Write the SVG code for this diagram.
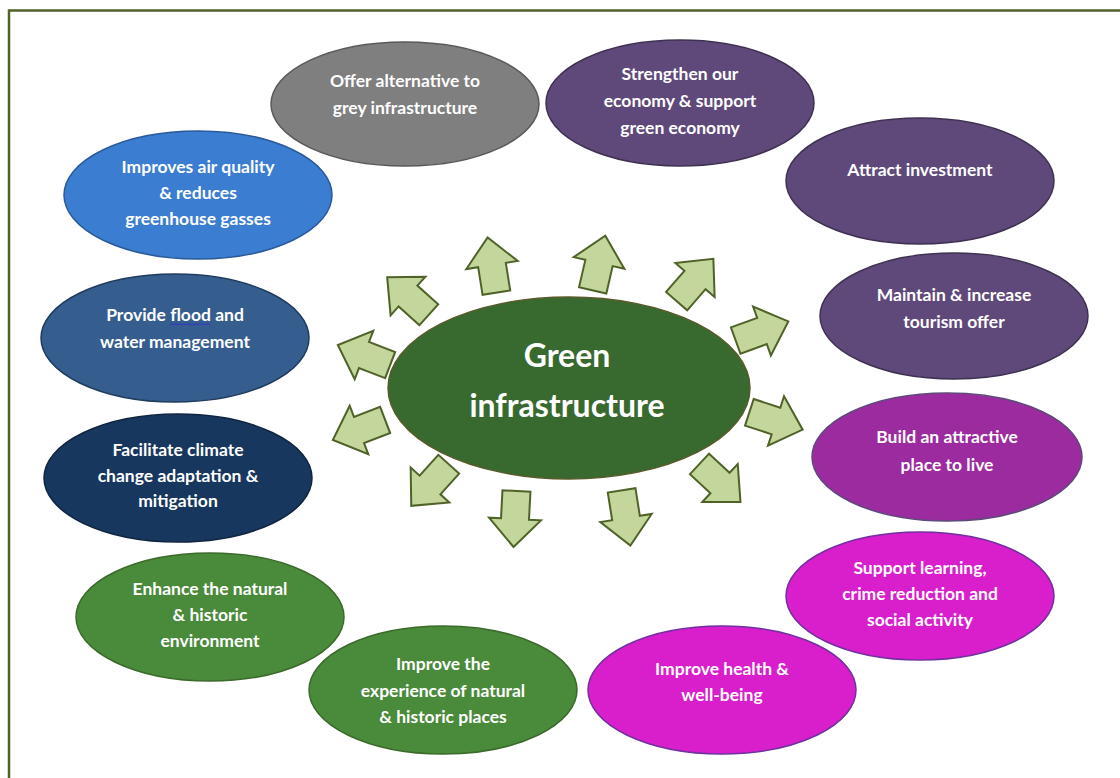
<svg xmlns="http://www.w3.org/2000/svg" width="1120" height="778" viewBox="0 0 1120 778">
<defs>
<style>
.t{font-family:Lato,"Open Sans","Liberation Sans",sans-serif;font-weight:bold;font-size:17.5px;fill:#ffffff;text-anchor:middle}
.c{font-family:Lato,"Open Sans","Liberation Sans",sans-serif;font-weight:bold;font-size:32px;fill:#ffffff;text-anchor:middle}
.arr{fill:#c3d69b;stroke:#4f6228;stroke-width:2;stroke-linejoin:miter}
.n{stroke-width:1.5}
</style>
<path id="a" d="M-28,-14 L0,-14 L0,-26 L28,0 L0,26 L0,14 L-28,14 Z"/>
</defs>
<rect width="1120" height="778" fill="#ffffff"/>
<path d="M9,778 V10.5 H1120" fill="none" stroke="#4f6228" stroke-width="2.5"/>

<g id="n-grey"><ellipse class="n" cx="405" cy="104" rx="134" ry="62" fill="#7f7f7f" stroke="#595959"/><text class="t" x="405" y="87">Offer alternative to</text><text class="t" x="405" y="114">grey infrastructure</text></g>
<g id="n-economy"><ellipse class="n" cx="680" cy="103" rx="134" ry="63" fill="#5f497a" stroke="#3f3151"/><text class="t" x="680" y="80">Strengthen our</text><text class="t" x="680" y="107">economy &amp; support</text><text class="t" x="680" y="134">green economy</text></g>
<g id="n-invest"><ellipse class="n" cx="920" cy="181" rx="134" ry="63" fill="#5f497a" stroke="#3f3151"/><text class="t" x="920" y="176">Attract investment</text></g>
<g id="n-tourism"><ellipse class="n" cx="954" cy="316" rx="134" ry="63" fill="#5f497a" stroke="#3f3151"/><text class="t" x="954" y="301">Maintain &amp; increase</text><text class="t" x="954" y="328">tourism offer</text></g>
<g id="n-place"><ellipse class="n" cx="947" cy="457" rx="135" ry="64" fill="#9b2b9f" stroke="#5f497a"/><text class="t" x="947" y="443">Build an attractive</text><text class="t" x="947" y="471">place to live</text></g>
<g id="n-learning"><ellipse class="n" cx="920" cy="596" rx="134" ry="64" fill="#d91ecb" stroke="#7030a0"/><text class="t" x="920" y="574">Support learning,</text><text class="t" x="920" y="600">crime reduction and</text><text class="t" x="920" y="626">social activity</text></g>
<g id="n-health"><ellipse class="n" cx="722" cy="690" rx="134" ry="64" fill="#d91ecb" stroke="#7030a0"/><text class="t" x="722" y="675">Improve health &amp;</text><text class="t" x="722" y="701">well-being</text></g>
<g id="n-experience"><ellipse class="n" cx="443" cy="690" rx="134" ry="64" fill="#4a8a3b" stroke="#3b6a2b"/><text class="t" x="443" y="670">Improve the</text><text class="t" x="443" y="697">experience of natural</text><text class="t" x="443" y="723">&amp; historic places</text></g>
<g id="n-enhance"><ellipse class="n" cx="210" cy="617" rx="134" ry="64" fill="#4a8a3b" stroke="#3b6a2b"/><text class="t" x="210" y="595">Enhance the natural</text><text class="t" x="210" y="621">&amp; historic</text><text class="t" x="210" y="647">environment</text></g>
<g id="n-climate"><ellipse class="n" cx="178" cy="478" rx="134" ry="64" fill="#17375e" stroke="#10253f"/><text class="t" x="178" y="456">Facilitate climate</text><text class="t" x="178" y="482">change adaptation &amp;</text><text class="t" x="178" y="507">mitigation</text></g>
<g id="n-flood"><ellipse class="n" cx="175" cy="338" rx="134" ry="64" fill="#355e8e" stroke="#1f3b5e"/><text class="t" x="175" y="321">Provide flood and</text><text class="t" x="175" y="348">water management</text><path d="M170,325 l2,-1.5 2,1.5 2,-1.5 2,1.5 2,-1.5 2,1.5 2,-1.5 2,1.5 2,-1.5 2,1.5 2,-1.5 2,1.5 2,-1.5 2,1.5 2,-1.5 2,1.5 2,-1.5 2,1.5 2,-1.5 2,1.5" fill="none" stroke="#3333cc" stroke-width="1"/></g>
<g id="n-air"><ellipse class="n" cx="198" cy="195" rx="134" ry="64" fill="#3b7dd0" stroke="#2a5a9a"/><text class="t" x="198" y="173">Improves air quality</text><text class="t" x="198" y="199">&amp; reduces</text><text class="t" x="198" y="225">greenhouse gasses</text></g>

<g id="connectors">
<use href="#a" class="arr" transform="translate(408,296) rotate(-138)"/>
<use href="#a" class="arr" transform="translate(492,265) rotate(-99)"/>
<use href="#a" class="arr" transform="translate(599,263) rotate(-77)"/>
<use href="#a" class="arr" transform="translate(695,280) rotate(-49)"/>
<use href="#a" class="arr" transform="translate(762,331) rotate(-20)"/>
<use href="#a" class="arr" transform="translate(776,421) rotate(18)"/>
<use href="#a" class="arr" transform="translate(720,483) rotate(43)"/>
<use href="#a" class="arr" transform="translate(626,518) rotate(81)"/>
<use href="#a" class="arr" transform="translate(515,519) rotate(93)"/>
<use href="#a" class="arr" transform="translate(430,485) rotate(132)"/>
<use href="#a" class="arr" transform="translate(359,430) rotate(159)"/>
<use href="#a" class="arr" transform="translate(364,355) rotate(-159)"/>
</g>

<g id="n-center"><ellipse cx="569" cy="388" rx="181" ry="91" fill="#386a30" stroke="#5a5a2a" stroke-width="1.5"/><text class="c" x="567" y="367">Green</text><text class="c" x="567" y="417">infrastructure</text></g>
</svg>
